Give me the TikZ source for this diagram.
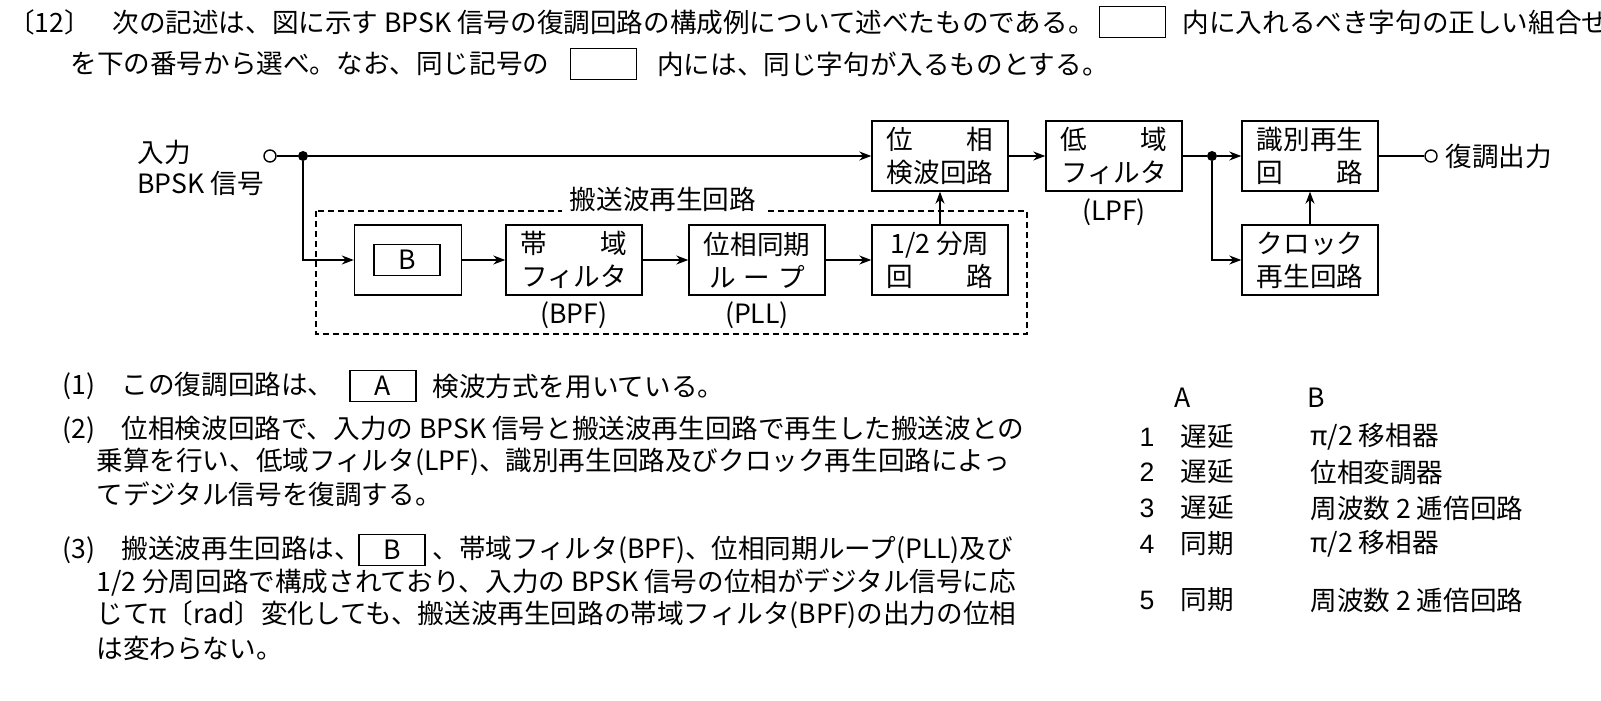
\documentclass[tikz,border=0pt]{standalone}
\usepackage{fontspec}
\setmainfont{Noto Sans CJK JP}
\newfontfamily\numf{Liberation Sans}
\usetikzlibrary{arrows.meta}
\begin{document}
\begin{tikzpicture}[x=0.5pt,y=-0.5pt,font=\fontsize{13.3}{15}\selectfont,
 blk/.style={draw,line width=0.7pt,minimum width=68pt,minimum height=35pt,align=center,inner sep=0pt,font=\fontsize{13.3}{16.5}\selectfont},
 ln/.style={line width=0.7pt},
 ar/.style={ln,-{Stealth[length=6pt,width=4.5pt]}},
 dotn/.style={circle,fill,inner sep=0pt,minimum size=5pt},
 opn/.style={circle,draw,line width=0.7pt,fill=white,inner sep=0pt,minimum size=6pt},
 t/.style={anchor=west,inner sep=0pt},
 ibox/.style={draw,line width=0.6pt,minimum width=33pt,minimum height=15.5pt,inner sep=0pt}]
\useasboundingbox (0,0) rectangle (1601,701);
% header
\node[t] (h1) at (8,22) {〔12〕\hspace{0.8em}次の記述は、図に示す BPSK 信号の復調回路の構成例について述べたものである。};
\node[ibox,anchor=west] (hb1) at ([xshift=2]h1.east) {};
\node[t] (h1b) at ([xshift=8]hb1.east) {内に入れるべき字句の正しい組合せ};
\node[t] (h2) at (70,64) {を下の番号から選べ。なお、同じ記号の};
\node[ibox,anchor=west] (hb2) at ([xshift=10]h2.east) {};
\node[t] (h2b) at ([xshift=10]hb2.east) {内には、同じ字句が入るものとする。};
% diagram
\node[t] (in1) at (137,152) {入力};
\node[t] (in2) at (137,183) {BPSK 信号};
\node[opn] (ic) at (270,156) {};
\node[dotn] (d1) at (303,156) {};
\node[blk] (pd) at (940,156) {位\hspace{2em}相\\検波回路};
\node[blk] (lpf) at (1114,156) {低\hspace{2em}域\\フィルタ};
\node (lpft) at (1114,212) {(LPF)};
\node[dotn] (d2) at (1212,156) {};
\node[blk] (dec) at (1310,156) {識別再生\\回\hspace{2em}路};
\node[opn] (oc) at (1431,156) {};
\node[t] (out) at (1445,156) {復調出力};
\node[blk] (clk) at (1310,260) {クロック\\再生回路};
\draw[ln,dash pattern=on 3pt off 2pt] (316,211) rectangle (1027,334);
\node[fill=white,inner xsep=4pt] (cr) at (663,199) {搬送波再生回路};
\node[blk,minimum width=53.5pt] (bb) at (408,260) {};
\node[ibox] (bin) at (407,260) {B};
\node[blk] (bpf) at (574,260) {帯\hspace{2em}域\\フィルタ};
\node (bpft) at (574,315) {(BPF)};
\node[blk] (pll) at (757,260) {位相同期\\ル\hspace{0.3em}ー\hspace{0.3em}プ};
\node (pllt) at (757,315) {(PLL)};
\node[blk] (div) at (940,260) {1/2 分周\\回\hspace{2em}路};
\draw[ln] (ic) -- (d1);
\draw[ar] (d1) -- (pd);
\draw[ar] (pd) -- (lpf);
\draw[ln] (lpf) -- (d2);
\draw[ar] (d2) -- (dec);
\draw[ln] (dec) -- (oc);
\draw[ar] (d2) |- (clk);
\draw[ar] (clk) -- (dec);
\draw[ar] (d1) |- (bb);
\draw[ar] (bb) -- (bpf);
\draw[ar] (bpf) -- (pll);
\draw[ar] (pll) -- (div);
\draw[ar] (div) -- (pd);
% statements
\node[t] (s1) at (62,386) {(1)\hspace{1em}この復調回路は、};
\node[ibox] (sa) at (383,386) {A};
\node[t] (s1b) at (432,386) {検波方式を用いている。};
\node[t] (s2) at (62,430) {(2)\hspace{1em}位相検波回路で、入力の BPSK 信号と搬送波再生回路で再生した搬送波との};
\node[t] (s2b) at (96,462) {乗算を行い、低域フィルタ(LPF)、識別再生回路及びクロック再生回路によっ};
\node[t] (s2c) at (96,494) {てデジタル信号を復調する。};
\node[t] (s3) at (62,550) {(3)\hspace{1em}搬送波再生回路は、};
\node[ibox] (sb) at (392,550) {B};
\node[t] (s3b) at (432,550) {、帯域フィルタ(BPF)、位相同期ループ(PLL)及び};
\node[t] (s3c) at (96,583) {1/2 分周回路で構成されており、入力の BPSK 信号の位相がデジタル信号に応};
\node[t] (s3d) at (96,615) {じてπ〔rad〕変化しても、搬送波再生回路の帯域フィルタ(BPF)の出力の位相};
\node[t] (s3e) at (96,648) {は変わらない。};
% table
\node (ta) at (1183,398) {A};
\node (tb) at (1316,398) {B};
\foreach \n/\y/\a/\b in {1/437/遅延/{π/2 移相器},2/472/遅延/位相変調器,3/508/遅延/周波数 2 逓倍回路,4/544/同期/{π/2 移相器},5/600/同期/周波数 2 逓倍回路}{
 \node (n\n) at (1147,\y) {\numf\n};
 \node[t] (a\n) at (1180,\y) {\a};
 \node[t] (b\n) at (1310,\y) {\b};
}
\end{tikzpicture}
\end{document}
